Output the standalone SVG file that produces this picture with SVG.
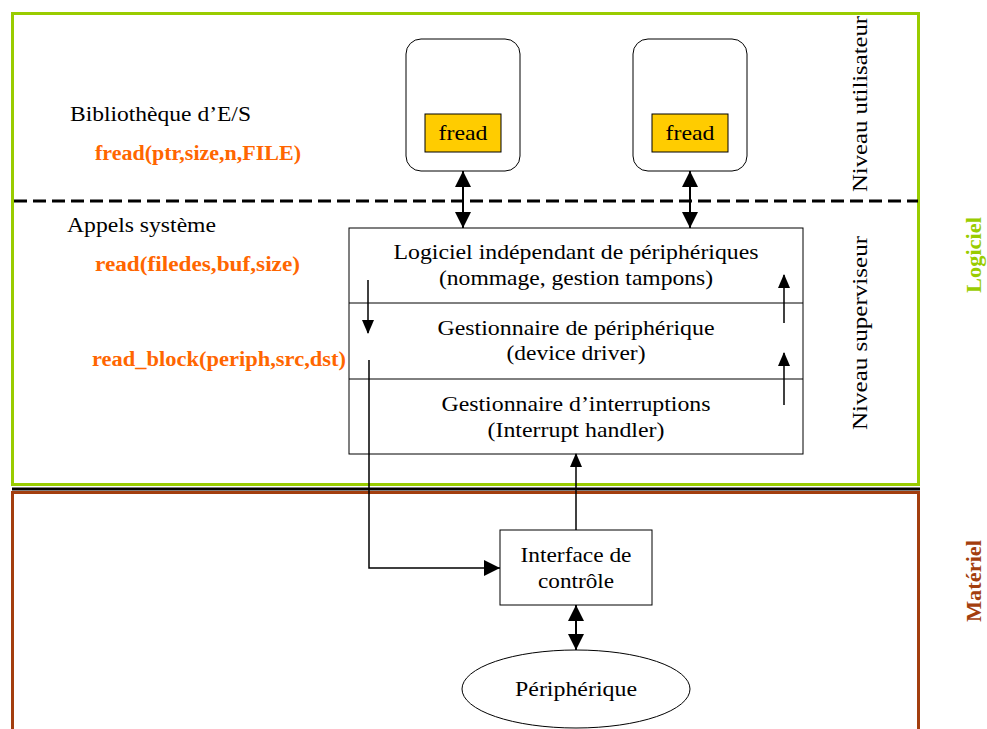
<svg xmlns="http://www.w3.org/2000/svg" width="987" height="729" viewBox="0 0 987 729">
<style>
  text { font-family: "Liberation Serif", "Times New Roman", serif; fill: #000; }
  .t { font-size: 21px; text-anchor: middle; }
  .lbl { font-size: 21px; }
  .code { font-size: 20px; font-weight: bold; fill: #FF6600; }
  .rot { font-size: 21px; text-anchor: middle; }
  .side { font-size: 20px; font-weight: bold; text-anchor: middle; }
  .box { fill: #fff; stroke: #000; stroke-width: 1; }
  .conn { stroke: #000; stroke-width: 2; fill: none; }
  .conn1 { stroke: #000; stroke-width: 1.5; fill: none; }
</style>
<defs>
  <marker id="ah" markerUnits="userSpaceOnUse" markerWidth="16" markerHeight="16" refX="16" refY="8" orient="auto-start-reverse" viewBox="0 0 16 16">
    <path d="M0,0 L16,8 L0,16 Z" fill="#000"/>
  </marker>
  <marker id="ahs" markerUnits="userSpaceOnUse" markerWidth="14" markerHeight="12" refX="13" refY="6" orient="auto" viewBox="0 0 14 12">
    <path d="M0,0 L14,6 L0,12 Z" fill="#000"/>
  </marker>
</defs>
<rect width="987" height="729" fill="#fff"/>

<g id="zones">
  <rect x="12.5" y="13.5" width="906" height="471" fill="none" stroke="#99CC00" stroke-width="3"/>
  <line x1="12" y1="489" x2="920" y2="489" stroke="#000" stroke-width="3"/>
  <rect x="12.5" y="492.5" width="906" height="260" fill="none" stroke="#A33E0E" stroke-width="3"/>
  <line x1="14" y1="201" x2="918" y2="201" stroke="#000" stroke-width="3" stroke-dasharray="13 6"/>
</g>

<g id="labels">
  <text class="lbl" x="70" y="121" textLength="181" lengthAdjust="spacingAndGlyphs">Bibliothèque d’E/S</text>
  <text class="code" x="95" y="160" textLength="206" lengthAdjust="spacingAndGlyphs">fread(ptr,size,n,FILE)</text>
  <text class="lbl" x="67" y="232" textLength="149" lengthAdjust="spacingAndGlyphs">Appels système</text>
  <text class="code" x="95" y="271" textLength="205" lengthAdjust="spacingAndGlyphs">read(filedes,buf,size)</text>
  <text class="code" x="92" y="366" textLength="254" lengthAdjust="spacingAndGlyphs">read_block(periph,src,dst)</text>
  <text class="rot" transform="translate(867,104) rotate(-90)" textLength="176" lengthAdjust="spacingAndGlyphs">Niveau utilisateur</text>
  <text class="rot" transform="translate(867,333) rotate(-90)" textLength="194" lengthAdjust="spacingAndGlyphs">Niveau superviseur</text>
  <text class="side" style="fill:#99CC00" transform="translate(981,255) rotate(-90)" textLength="76" lengthAdjust="spacingAndGlyphs">Logiciel</text>
  <text class="side" style="fill:#A33E0E" transform="translate(981,581) rotate(-90)" textLength="82" lengthAdjust="spacingAndGlyphs">Matériel</text>
</g>

<g id="proc1">
  <rect class="box" x="406" y="39" width="114" height="132" rx="15" ry="15"/>
  <rect x="425" y="114" width="76" height="38" fill="#FFCC00" stroke="#000" stroke-width="1"/>
  <text class="t" x="463" y="140" textLength="49" lengthAdjust="spacingAndGlyphs">fread</text>
</g>
<g id="proc2">
  <rect class="box" x="633" y="39" width="114" height="132" rx="15" ry="15"/>
  <rect x="652" y="114" width="76" height="38" fill="#FFCC00" stroke="#000" stroke-width="1"/>
  <text class="t" x="690" y="140" textLength="49" lengthAdjust="spacingAndGlyphs">fread</text>
</g>

<g id="stack">
  <rect class="box" x="349" y="228" width="454" height="226"/>
  <line x1="349" y1="303" x2="803" y2="303" stroke="#000" stroke-width="1"/>
  <line x1="349" y1="379" x2="803" y2="379" stroke="#000" stroke-width="1"/>
</g>
<g id="layer-independant">
  <text class="t" x="576" y="259" textLength="365" lengthAdjust="spacingAndGlyphs">Logiciel indépendant de périphériques</text>
  <text class="t" x="576" y="285" textLength="274" lengthAdjust="spacingAndGlyphs">(nommage, gestion tampons)</text>
</g>
<g id="layer-driver">
  <text class="t" x="576" y="335" textLength="277" lengthAdjust="spacingAndGlyphs">Gestionnaire de périphérique</text>
  <text class="t" x="576" y="360" textLength="139" lengthAdjust="spacingAndGlyphs">(device driver)</text>
</g>
<g id="layer-interrupt">
  <text class="t" x="576" y="411" textLength="269" lengthAdjust="spacingAndGlyphs">Gestionnaire d’interruptions</text>
  <text class="t" x="576" y="437" textLength="177" lengthAdjust="spacingAndGlyphs">(Interrupt handler)</text>
</g>

<g id="interface">
  <rect class="box" x="500" y="530" width="152" height="75"/>
  <text class="t" x="576" y="562" textLength="111" lengthAdjust="spacingAndGlyphs">Interface de</text>
  <text class="t" x="576" y="588" textLength="76" lengthAdjust="spacingAndGlyphs">contrôle</text>
</g>

<g id="peripherique">
  <ellipse cx="576" cy="689" rx="114" ry="39" fill="#fff" stroke="#000" stroke-width="1"/>
  <text class="t" x="576" y="696" textLength="122" lengthAdjust="spacingAndGlyphs">Périphérique</text>
</g>

<g id="connectors">
  <line class="conn" x1="463" y1="171" x2="463" y2="228" marker-start="url(#ah)" marker-end="url(#ah)"/>
  <line class="conn" x1="690" y1="171" x2="690" y2="228" marker-start="url(#ah)" marker-end="url(#ah)"/>
  <line class="conn1" x1="368" y1="280" x2="368" y2="333" marker-end="url(#ahs)"/>
  <polyline class="conn1" points="369,360 369,568 500,568" marker-end="url(#ah)"/>
  <line class="conn1" x1="784" y1="323" x2="784" y2="275" marker-end="url(#ahs)"/>
  <line class="conn1" x1="784" y1="405" x2="784" y2="353" marker-end="url(#ahs)"/>
  <line class="conn1" x1="576" y1="530" x2="576" y2="454" marker-end="url(#ahs)"/>
  <line class="conn" x1="576" y1="605" x2="576" y2="650" marker-start="url(#ah)" marker-end="url(#ah)"/>
</g>
</svg>
